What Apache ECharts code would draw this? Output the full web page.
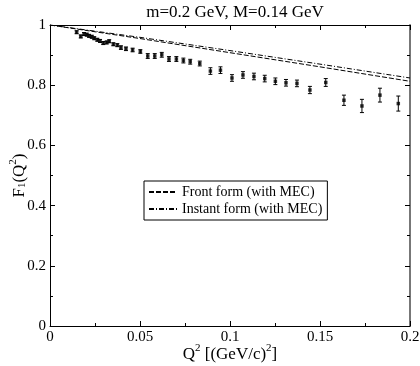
<!DOCTYPE html>
<html><head><meta charset="utf-8">
<script src="https://cdn.jsdelivr.net/npm/echarts@6/dist/echarts.min.js"></script>
<style>html,body{margin:0;padding:0;background:#fff}#c{width:420px;height:366px}</style>
</head><body><div id="c"></div>
<script>
var titleText = 'm=0.2 GeV, M=0.14 GeV';
var q2 = [0.0148,0.0171,0.0189,0.0204,0.0217,0.0232,0.0246,0.0263,0.0278,0.0296,0.0315,0.0329,0.0352,0.0374,
  0.0394,0.0422,0.0459,0.0502,0.0543,0.0582,0.0621,0.0661,0.0702,0.0741,0.0779,0.0832,
  0.0891,0.0947,0.1011,0.1072,0.1133,0.1193,0.1252,0.1311,0.1372,0.1444,0.1532,0.1633,0.1733,0.1833,0.1935];
var f1 = [0.976,0.962,0.970,0.968,0.964,0.961,0.956,0.951,0.947,0.940,0.942,0.946,0.936,0.933,
  0.925,0.921,0.917,0.912,0.897,0.897,0.901,0.887,0.887,0.882,0.878,0.872,
  0.847,0.850,0.824,0.834,0.829,0.822,0.813,0.808,0.806,0.784,0.809,0.750,0.731,0.767,0.739];
var f1err = [0.005,0.005,0.005,0.005,0.005,0.005,0.005,0.005,0.005,0.005,0.005,0.005,0.005,0.005,
  0.006,0.006,0.006,0.006,0.008,0.008,0.008,0.008,0.008,0.008,0.008,0.008,
  0.011,0.011,0.011,0.011,0.011,0.011,0.011,0.011,0.011,0.012,0.013,0.017,0.022,0.023,0.025];
var lineQ2 = [0, 0.05, 0.1, 0.15, 0.2];
var frontForm = [1.0, 0.955, 0.908, 0.861, 0.813];
var instantForm = [1.0, 0.959, 0.915, 0.870, 0.824];
var frontName = 'Front form (with MEC)';
var instantName = 'Instant form (with MEC)';
var xTicks = [0, 0.05, 0.1, 0.15, 0.2];
var yTicks = [0, 0.2, 0.4, 0.6, 0.8, 1];

var serif = '"Liberation Serif","DejaVu Serif",serif';
function pairs(xs, ys){ return xs.map(function(x,i){return [x, ys[i]];}); }
var errData = q2.map(function(x,i){ return [x, f1[i], f1err[i]]; });

var chart = echarts.init(document.getElementById('c'), null, {renderer:'canvas'});
var axBase = {
  axisLine:{show:true, onZero:false, lineStyle:{color:'#000', width:1}},
  axisTick:{show:true, inside:true, length:5, lineStyle:{color:'#000'}},
  minorTick:{show:true, splitNumber:2, length:3, lineStyle:{color:'#000'}},
  splitLine:{show:false}
};
chart.setOption({
  animation:false,
  title:{text:titleText, left:230, top:-1, textAlign:'center',
    textStyle:{fontFamily:serif, fontSize:17, fontWeight:'normal', color:'#000'}},
  grid:{left:50, right:10, top:25, bottom:40, containLabel:false, outerBoundsMode:'none'},
  legend:{
    orient:'vertical', left:144, top:181, data:[frontName, instantName],
    backgroundColor:'#fff', borderColor:'#000', borderWidth:1, borderRadius:0,
    padding:[4,5,4,4], itemGap:3, itemWidth:28, itemHeight:10,
    itemStyle:{opacity:0},
    textStyle:{fontFamily:serif, fontSize:14, color:'#000'}
  },
  xAxis:[
    Object.assign({type:'value', min:0, max:0.2, interval:0.05, position:'bottom',
      axisLabel:{fontFamily:serif, fontSize:15, color:'#000', margin:4,
        formatter:function(v){ return xTicks.indexOf(+v.toFixed(3))>=0 ? String(+v.toFixed(3)) : ''; }},
      name:'{a|Q}{sup|2}{a| [(GeV/c)}{sup|2}{a|]}', nameLocation:'middle', nameGap:17, nameMoveOverlap:false,
      nameTextStyle:{verticalAlign:'top', rich:{a:{fontFamily:serif, fontSize:17, color:'#000', lineHeight:20, verticalAlign:'bottom'},
        sup:{fontFamily:serif, fontSize:11, color:'#000', lineHeight:20, verticalAlign:'top', padding:[0,0,6,0]}}}
    }, axBase),
    Object.assign({type:'value', min:0, max:0.2, interval:0.05, position:'top',
      axisLabel:{show:false}}, axBase)
  ],
  yAxis:[
    Object.assign({type:'value', min:0, max:1, interval:0.2, position:'left',
      axisLabel:{fontFamily:serif, fontSize:15, color:'#000', margin:4,
        formatter:function(v){ return String(+v.toFixed(2)); }},
      name:'{a|F}{sub|1}{a|(Q}{sup|2}{a|)}', nameLocation:'middle', nameGap:22, nameRotate:90, nameMoveOverlap:false,
      nameTextStyle:{rich:{a:{fontFamily:serif, fontSize:17, color:'#000', lineHeight:20, verticalAlign:'bottom'},
        sub:{fontFamily:serif, fontSize:11, color:'#000', lineHeight:20, verticalAlign:'bottom', padding:[6,0,0,0]},
        sup:{fontFamily:serif, fontSize:11, color:'#000', lineHeight:20, verticalAlign:'top', padding:[0,0,6,0]}}}
    }, axBase),
    Object.assign({type:'value', min:0, max:1, interval:0.2, position:'right',
      axisLabel:{show:false}, axisLine:{show:true, onZero:false, lineStyle:{color:'#777', width:2}}},
      {axisTick:axBase.axisTick, minorTick:axBase.minorTick, splitLine:axBase.splitLine})
  ],
  series:[
    {name:frontName, type:'line', data:pairs(lineQ2, frontForm), symbol:'none', smooth:false,
      lineStyle:{color:'#000', width:1, type:[5,2]}, itemStyle:{color:'#000'}},
    {name:instantName, type:'line', data:pairs(lineQ2, instantForm), symbol:'none', smooth:false,
      lineStyle:{color:'#000', width:1, type:[5,2,1,2]}, itemStyle:{color:'#000'}},
    {name:'err', type:'custom', data:errData, z:3,
      renderItem:function(params, api){
        var x = api.value(0), y = api.value(1), e = api.value(2);
        var lo = api.coord([x, y-e]), hi = api.coord([x, y+e]);
        var st = {stroke:'#000', lineWidth:1};
        return {type:'group', children:[
          {type:'line', shape:{x1:lo[0], y1:lo[1], x2:hi[0], y2:hi[1]}, style:st},
          {type:'line', shape:{x1:lo[0]-2, y1:lo[1], x2:lo[0]+2, y2:lo[1]}, style:st},
          {type:'line', shape:{x1:hi[0]-2, y1:hi[1], x2:hi[0]+2, y2:hi[1]}, style:st}
        ]};
      }},
    {name:'data', type:'scatter', data:pairs(q2, f1), symbol:'rect', symbolSize:3.5,
      itemStyle:{color:'#000'}, z:4}
  ]
});
</script></body></html>
